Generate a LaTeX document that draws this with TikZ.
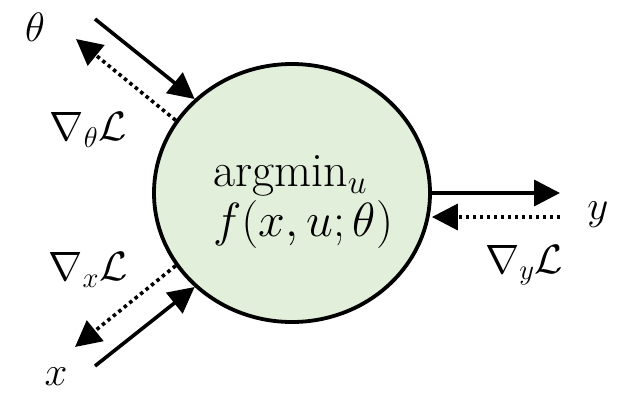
\RequirePackage{fix-cm}
\documentclass[tikz,border=0pt]{standalone}
\usetikzlibrary{arrows.meta,shapes.geometric}
\definecolor{cfill}{RGB}{226,239,218}
\begin{document}
\begin{tikzpicture}[x=1pt,y=-1pt,
  every node/.style={font=\fontsize{41}{50}\selectfont},
  solidarrow/.style={line width=3.6pt,-{Triangle[length=26pt,width=26pt]}},
  dotarrow/.style={line width=3.6pt,dash pattern=on 3.5pt off 3.5pt,-{Triangle[length=26pt,width=26pt]}},
  lbl/.style={inner sep=0pt},
  mainlbl/.style={inner sep=0pt,align=left,font=\fontsize{48}{50}\selectfont}
]
\useasboundingbox (0,0) rectangle (629,394);
\node[ellipse,draw,line width=3.8pt,fill=cfill,minimum width=276pt,minimum height=258pt,inner sep=0pt] (c) at (292,193) {};
\node[mainlbl,anchor=west] (t) at (213,202) {argmin$_u$\\$f(x,u;\theta)$};
% labels
\node[lbl] (lth) at (35,27) {$\theta$};
\node[lbl] (lgth) at (88,130) {$\nabla_\theta\mathcal{L}$};
\node[lbl] (lx) at (56,377) {$x$};
\node[lbl] (lgx) at (88,270) {$\nabla_x\mathcal{L}$};
\node[lbl] (ly) at (598,215) {$y$};
\node[lbl] (lgy) at (524,265) {$\nabla_y\mathcal{L}$};
% free ends
\coordinate (th1) at (95,19);
\coordinate (th2) at (76,39);
\coordinate (x1) at (95,366);
\coordinate (x2) at (75,347);
\coordinate (y1) at (560,193);
\coordinate (y2) at (560,217);
% connectors
\draw[solidarrow] (th1) -- (c.136);
\draw[dotarrow] (c.148) -- (th2);
\draw[solidarrow] (x1) -- (c.224);
\draw[dotarrow] (c.212) -- (x2);
\draw[solidarrow] (c.east) -- (y1);
\draw[dotarrow] (y2) -- (c.east |- y2);
\end{tikzpicture}
\end{document}
